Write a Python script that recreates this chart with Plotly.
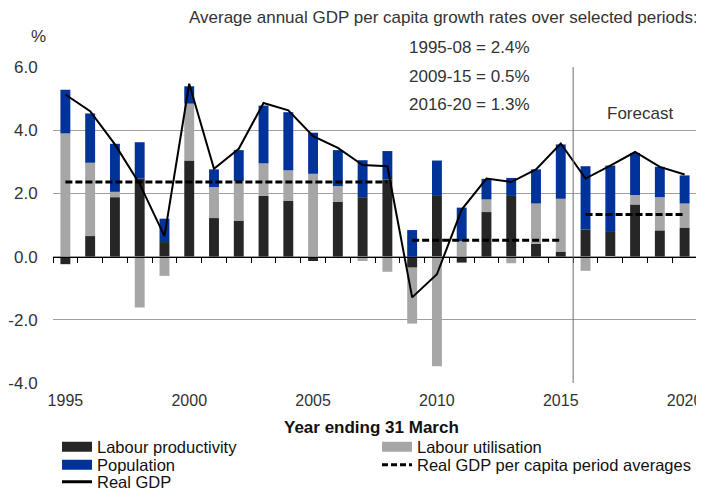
import plotly.graph_objects as go

# ---------------- data ----------------
years = list(range(1995, 2021))
labour_productivity = [-0.24, 0.65, 1.88, 2.47, 0.46, 3.04, 1.22, 1.14, 1.92, 1.76,
                       -0.14, 1.74, 1.88, 2.44, -0.35, 1.92, -0.19, 1.41, 1.92, 0.41,
                       0.16, 0.86, 0.78, 1.65, 0.83, 0.92]
labour_utilisation = [3.90, 2.32, 0.17, -1.61, -0.61, 1.80, 0.98, 1.25, 1.03, 0.97,
                      2.62, 0.49, -0.14, -0.48, -1.77, -3.47, 0.49, 0.40, -0.21, 1.27,
                      1.67, -0.45, -0.05, 0.30, 1.05, 0.76]
population = [1.38, 1.56, 1.52, 1.15, 0.74, 0.55, 0.56, 0.98, 1.83, 1.84,
              1.30, 1.14, 1.17, 0.90, 0.84, 1.12, 1.06, 0.65, 0.57, 1.08,
              1.72, 2.00, 2.10, 1.33, 0.96, 0.89]
real_gdp = [5.13, 4.60, 3.55, 2.30, 0.65, 5.47, 2.78, 3.41, 4.86, 4.63,
            3.81, 3.44, 2.90, 2.86, -1.29, -0.56, 1.49, 2.47, 2.36, 2.76,
            3.58, 2.47, 2.88, 3.31, 2.84, 2.60]
period_starts = [1995, 2009, 2016]
period_ends = [2008, 2015, 2020]
period_averages = [2.36, 0.52, 1.33]
period_labels = ["1995-08 = 2.4%", "2009-15 = 0.5%", "2016-20 = 1.3%"]
x_tick_years = [1995, 2000, 2005, 2010, 2015, 2020]
y_ticks = [-4, -2, 0, 2, 4, 6]
y_tick_labels = ["-4.0", "-2.0", "0.0", "2.0", "4.0", "6.0"]
forecast_start = 2015.5

# ---------------- styles ----------------
FONT = "Liberation Sans, Arial, sans-serif"
TXT = "#333333"
C_PROD = "#262626"
C_UTIL = "#A6A6A6"
C_POP = "#003399"
W, H = 696, 482   # page body has an 8px margin

fig = go.Figure()

# stacked bars
for name, vals, col in [("Labour productivity", labour_productivity, C_PROD),
                        ("Labour utilisation", labour_utilisation, C_UTIL),
                        ("Population", population, C_POP)]:
    fig.add_trace(go.Bar(x=years, y=vals, name=name, marker_color=col,
                         marker_line_width=0, showlegend=False))

# period averages (dashed)
avg_x, avg_y = [], []
for s, e, a in zip(period_starts, period_ends, period_averages):
    avg_x += [s, e, None]
    avg_y += [a, a, None]
fig.add_trace(go.Scatter(x=avg_x, y=avg_y, mode="lines", showlegend=False,
                         line=dict(color="black", width=3, dash="7px,3px")))

# real GDP line
fig.add_trace(go.Scatter(x=years, y=real_gdp, mode="lines", showlegend=False,
                         line=dict(color="black", width=2)))

# legend proxies, one legend per entry for exact placement
legend_items = [("Labour productivity", C_PROD, 10, "solid", "legend", 49, 439),
                ("Labour utilisation", C_UTIL, 10, "solid", "legend2", 369, 439),
                ("Population", C_POP, 10, "solid", "legend3", 49, 457),
                ("Real GDP per capita period averages", "black", 3, "6px,3px", "legend4", 369, 457),
                ("Real GDP", "black", 3, "solid", "legend5", 49, 474)]
legend_layouts = {}
for name, col, w, d, lg, lx, ly in legend_items:
    fig.add_trace(go.Scatter(x=[None], y=[None], mode="lines", name=name,
                             legend=lg, line=dict(color=col, width=w, dash=d)))
    legend_layouts[lg] = dict(orientation="h", xref="container", yref="container",
                              x=lx / W, y=1 - ly / H, xanchor="left", yanchor="middle",
                              itemwidth=30, bgcolor="rgba(0,0,0,0)",
                              font=dict(size=16.5, color="#111111", family=FONT))

annotations = [
    dict(text="Average annual GDP per capita growth rates over selected periods:",
         x=1.005, y=1.158, xanchor="right", yanchor="middle"),
    dict(text="%", x=-0.023, y=1.095, xanchor="center", yanchor="middle"),
    dict(text="Forecast", x=0.9115, y=0.854, xanchor="center", yanchor="middle"),
    dict(text="<b>Year ending 31 March</b>", x=0.4953, y=-0.142,
         xanchor="center", yanchor="middle", font=dict(size=17, color="#111111", family=FONT)),
]
for i, lab in enumerate(period_labels):
    annotations.append(dict(text=lab, x=0.6475, y=1.063 - i * 0.0915,
                            xanchor="center", yanchor="middle"))
for a in annotations:
    a.setdefault("font", dict(size=17, color=TXT, family=FONT))
    a.update(xref="paper", yref="paper", showarrow=False)

fig.update_layout(
    width=W, height=H,
    margin=dict(l=45, r=7, t=59, b=107, autoexpand=False),
    paper_bgcolor="white", plot_bgcolor="white",
    barmode="relative", bargap=0.6,
    font=dict(family=FONT, size=17, color=TXT),
    annotations=annotations,
    shapes=[dict(type="line", xref="x", yref="paper", x0=forecast_start,
                 x1=forecast_start, y0=0, y1=1,
                 line=dict(color="#6E6E6E", width=1))],
    xaxis=dict(range=[1994.5, 2020.5], tickmode="array", tickvals=x_tick_years,
               ticks="outside", ticklen=3, tickcolor="rgba(0,0,0,0)",
               showgrid=False, zeroline=False, showline=False, automargin=False,
               ticklabeloverflow="allow",
               tickfont=dict(size=16, color=TXT)),
    xaxis2=dict(range=[1994.5, 2020.5], overlaying="x", anchor="free",
                position=0.4, side="bottom", showline=True, linecolor="black",
                linewidth=1, ticks="outside", ticklen=5, tickcolor="black",
                tickmode="linear", tick0=1994.5, dtick=1, automargin=False,
                showticklabels=False, showgrid=False, zeroline=False),
    yaxis=dict(range=[-4, 6], tickmode="array", tickvals=y_ticks,
               ticktext=y_tick_labels, showgrid=True, gridcolor="#A0A0A0",
               gridwidth=1, zeroline=False, showline=False, automargin=False,
               ticks="outside", ticklen=11, tickcolor="rgba(0,0,0,0)",
               tickfont=dict(size=17, color=TXT)),
    **legend_layouts,
)

# dummy trace to activate xaxis2
fig.add_trace(go.Scatter(x=[None], y=[None], xaxis="x2", showlegend=False))

fig.write_html("out.html")
